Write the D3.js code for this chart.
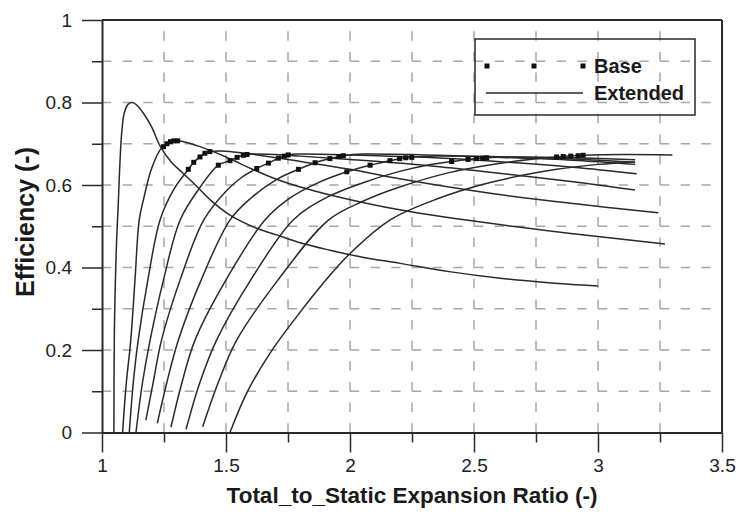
<!DOCTYPE html>
<html><head><meta charset="utf-8">
<script src="https://cdn.jsdelivr.net/npm/d3@7"></script>
<style>
html,body{margin:0;padding:0;background:#fff;}
svg{display:block;font-family:"Liberation Sans",Arial,sans-serif;}
</style></head>
<body><svg id="chart" width="736" height="514"></svg>
<script>
// ---------- data ----------
const xTicksMajor = [1, 1.5, 2, 2.5, 3, 3.5];
const xTicksMinor = [1.25, 1.75, 2.25, 2.75, 3.25];
const yTicksMajor = [0, 0.2, 0.4, 0.6, 0.8, 1];
const yTicksMinor = [0.1, 0.3, 0.5, 0.7, 0.9];
const xGrid = [1.25, 1.5, 1.75, 2, 2.25, 2.5, 2.75, 3, 3.25];
const yGrid = [0.1, 0.2, 0.3, 0.4, 0.5, 0.6, 0.7, 0.8, 0.9];

// Extended lines [ratio, efficiency]
const ext1 = [[1.048,0],[1.05,0.25],[1.058,0.45],[1.066,0.56],[1.072,0.65],[1.08,0.73],[1.09,0.775],[1.106,0.796],[1.122,0.80],[1.14,0.794],[1.167,0.774],[1.2,0.741],[1.234,0.695],[1.28,0.655],[1.328,0.628],[1.38,0.598],[1.44,0.562],[1.516,0.527],[1.624,0.495],[1.704,0.479],[1.798,0.46],[1.919,0.442],[2.05,0.425],[2.202,0.41],[2.4,0.39],[2.605,0.374],[2.8,0.363],[3.0,0.355]];
const ext2 = [[1.083,0],[1.098,0.12],[1.116,0.224],[1.133,0.37],[1.15,0.515],[1.167,0.564],[1.2,0.64],[1.24,0.69],[1.27,0.703],[1.3,0.707],[1.33,0.705],[1.395,0.693],[1.5,0.668],[1.6,0.64],[1.69,0.617],[1.8,0.595],[1.919,0.576],[2.2,0.54],[2.565,0.507],[2.9,0.482],[3.27,0.457]];
const ext3 = [[1.11,0],[1.126,0.12],[1.146,0.224],[1.185,0.37],[1.234,0.515],[1.29,0.59],[1.348,0.638],[1.37,0.655],[1.395,0.668],[1.415,0.677],[1.435,0.681],[1.5,0.682],[1.6,0.675],[1.8,0.657],[2.0,0.638],[2.2,0.615],[2.565,0.58],[2.9,0.555],[3.243,0.533]];
const ext4 = [[1.137,0],[1.163,0.12],[1.194,0.224],[1.248,0.37],[1.315,0.515],[1.39,0.59],[1.469,0.648],[1.516,0.659],[1.545,0.667],[1.57,0.672],[1.6,0.675],[1.7,0.674],[1.8,0.67],[2.0,0.662],[2.3,0.648],[2.565,0.631],[2.9,0.608],[3.149,0.588]];
const ext5 = [[1.177,0.03],[1.206,0.12],[1.24,0.224],[1.315,0.37],[1.41,0.515],[1.5,0.585],[1.56,0.617],[1.624,0.64],[1.671,0.653],[1.711,0.665],[1.751,0.673],[1.8,0.675],[2.0,0.673],[2.3,0.667],[2.565,0.658],[2.9,0.643],[3.156,0.627]];
const ext6 = [[1.223,0.022],[1.261,0.12],[1.308,0.224],[1.4,0.37],[1.516,0.515],[1.6,0.568],[1.7,0.612],[1.792,0.638],[1.859,0.654],[1.919,0.664],[1.973,0.671],[2.05,0.675],[2.3,0.673],[2.565,0.668],[2.9,0.66],[3.15,0.65]];
const ext7 = [[1.278,0.013],[1.322,0.12],[1.375,0.224],[1.5,0.37],[1.657,0.515],[1.75,0.565],[1.87,0.605],[1.987,0.632],[2.081,0.648],[2.161,0.659],[2.249,0.667],[2.35,0.67],[2.565,0.669],[2.9,0.663],[3.15,0.655]];
const ext8 = [[1.339,0.008],[1.394,0.12],[1.462,0.224],[1.6,0.37],[1.771,0.515],[1.9,0.568],[2.05,0.605],[2.2,0.633],[2.31,0.648],[2.41,0.657],[2.476,0.662],[2.551,0.666],[2.7,0.668],[2.9,0.666],[3.15,0.661]];
const ext9 = [[1.406,0.014],[1.468,0.12],[1.543,0.224],[1.71,0.37],[1.913,0.515],[2.05,0.56],[2.2,0.595],[2.4,0.63],[2.6,0.652],[2.76,0.664],[2.833,0.668],[2.94,0.672],[3.1,0.674],[3.3,0.673]];
const ext10 = [[1.516,0],[1.583,0.095],[1.677,0.192],[1.785,0.281],[1.892,0.362],[2.0,0.434],[2.161,0.515],[2.35,0.566],[2.565,0.606],[2.833,0.638],[3.0,0.65],[3.149,0.656]];
const extended = [ext1, ext2, ext3, ext4, ext5, ext6, ext7, ext8, ext9, ext10];

// Base points [ratio, efficiency]
const base2 = [[1.248,0.693],[1.262,0.70],[1.276,0.705],[1.29,0.707],[1.305,0.707]];
const base3 = [[1.348,0.638],[1.37,0.655],[1.395,0.668],[1.415,0.677],[1.435,0.681]];
const base4 = [[1.469,0.648],[1.516,0.659],[1.545,0.667],[1.57,0.672],[1.585,0.674]];
const base5 = [[1.624,0.64],[1.671,0.653],[1.711,0.665],[1.735,0.67],[1.751,0.673]];
const base6 = [[1.792,0.638],[1.859,0.654],[1.919,0.664],[1.955,0.669],[1.973,0.671]];
const base7 = [[1.987,0.632],[2.081,0.648],[2.161,0.659],[2.2,0.664],[2.225,0.666],[2.249,0.667]];
const base8 = [[2.41,0.657],[2.476,0.662],[2.51,0.664],[2.535,0.665],[2.551,0.666]];
const base9 = [[2.833,0.668],[2.86,0.669],[2.89,0.670],[2.92,0.671],[2.94,0.672]];
const basePts = [].concat(base2, base3, base4, base5, base6, base7, base8, base9);

const xTitle = "Total_to_Static Expansion Ratio (-)";
const yTitle = "Efficiency (-)";
const legendLabels = ["Base", "Extended"];

// ---------- chart ----------
const svg = d3.select("#chart");
const x = d3.scaleLinear().domain([1, 3.5]).range([102, 722]);
const y = d3.scaleLinear().domain([0, 1]).range([432.5, 20]);
const ink = "#2a2a2a";
const gridColor = "#a8a8a8";

// grid
const hPeriod = (x(1.25) - x(1)) / 3;
const vPeriod = (y(0) - y(0.1)) / 2;
const grid = svg.append("g");
grid.selectAll("line.h").data(yGrid).join("line")
  .attr("x1", x(1)).attr("x2", x(3.5))
  .attr("y1", d => y(d)).attr("y2", d => y(d))
  .attr("stroke", gridColor).attr("stroke-width", 1.5)
  .attr("stroke-dasharray", `${hPeriod*0.45},${hPeriod*0.55}`);
grid.selectAll("line.v").data(xGrid).join("line")
  .attr("x1", d => x(d)).attr("x2", d => x(d))
  .attr("y1", y(0)).attr("y2", y(1))
  .attr("stroke", gridColor).attr("stroke-width", 1.5)
  .attr("stroke-dasharray", `${vPeriod*0.45},${vPeriod*0.55}`);

// lines
const line = d3.line().x(d => x(d[0])).y(d => y(d[1])).curve(d3.curveCatmullRom.alpha(0.5));
svg.append("g").selectAll("path").data(extended).join("path")
  .attr("d", line).attr("fill", "none").attr("stroke", ink).attr("stroke-width", 1.5);

// base markers
const ms = 5;
svg.append("g").selectAll("rect").data(basePts).join("rect")
  .attr("x", d => x(d[0]) - ms/2).attr("y", d => y(d[1]) - ms/2)
  .attr("width", ms).attr("height", ms).attr("fill", "#111");

// frame top/right
svg.append("line").attr("x1", x(1)).attr("x2", x(3.5)).attr("y1", y(1)).attr("y2", y(1)).attr("stroke", ink).attr("stroke-width", 2);
svg.append("line").attr("x1", x(3.5)).attr("x2", x(3.5)).attr("y1", y(1)).attr("y2", y(0)).attr("stroke", ink).attr("stroke-width", 2);

// axes
function styleAxis(g) {
  g.select(".domain").attr("stroke", ink).attr("stroke-width", 2);
  g.selectAll(".tick line").attr("stroke", ink).attr("stroke-width", 1.5);
  g.selectAll("text").attr("fill", "#222").style("font-size", "19px").style("font-family", "'Liberation Sans', Arial, sans-serif");
}
svg.append("g").attr("transform", `translate(0,${y(0)})`)
  .call(d3.axisBottom(x).tickValues(xTicksMinor).tickSize(10).tickFormat(""))
  .call(g => { g.select(".domain").remove(); g.selectAll(".tick line").attr("stroke", ink).attr("stroke-width", 1.5); });
svg.append("g").attr("transform", `translate(0,${y(0)})`)
  .call(d3.axisBottom(x).tickValues(xTicksMajor).tickSize(20).tickSizeOuter(0).tickPadding(6).tickFormat(d => String(d)))
  .call(styleAxis);
svg.append("g").attr("transform", `translate(${x(1)},0)`)
  .call(d3.axisLeft(y).tickValues(yTicksMinor).tickSize(10).tickFormat(""))
  .call(g => { g.select(".domain").remove(); g.selectAll(".tick line").attr("stroke", ink).attr("stroke-width", 1.5); });
svg.append("g").attr("transform", `translate(${x(1)},0)`)
  .call(d3.axisLeft(y).tickValues(yTicksMajor).tickSize(20).tickSizeOuter(0).tickPadding(10).tickFormat(d => String(d)))
  .call(styleAxis);

// titles
svg.append("text").attr("x", (x(1) + x(3.5)) / 2).attr("y", 503)
  .attr("text-anchor", "middle").style("font-weight", "bold").style("font-size", "22.5px").attr("fill", "#1a1a1a")
  .text(xTitle);
svg.append("text").attr("transform", `translate(34,222) rotate(-90)`)
  .attr("text-anchor", "middle").style("font-weight", "bold").style("font-size", "25px").attr("fill", "#1a1a1a")
  .text(yTitle);

// legend
const lg = svg.append("g");
lg.append("rect").attr("x", 475).attr("y", 39).attr("width", 220).attr("height", 76)
  .attr("fill", "none").attr("stroke", ink).attr("stroke-width", 1.5);
lg.selectAll("rect.m").data([487, 534, 583]).join("rect")
  .attr("x", d => d - 2.5).attr("y", 66 - 2.5).attr("width", 5).attr("height", 5).attr("fill", "#111");
lg.append("line").attr("x1", 486).attr("x2", 583).attr("y1", 93).attr("y2", 93).attr("stroke", ink).attr("stroke-width", 1.5);
lg.selectAll("text").data(legendLabels).join("text")
  .attr("x", 594).attr("y", (d, i) => 73 + i * 27)
  .style("font-weight", "bold").style("font-size", "20px").attr("fill", "#1a1a1a")
  .text(d => d);
</script></body></html>
